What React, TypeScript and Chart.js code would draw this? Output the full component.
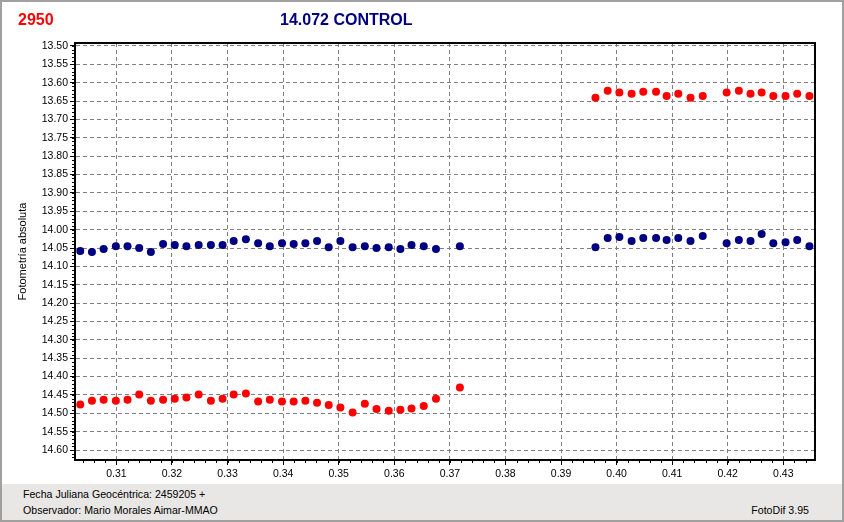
import React, { useEffect, useRef } from 'react';
import { Chart, registerables } from 'chart.js';

Chart.register(...registerables);

// Julian date fraction (2459205 + x)
const times = [
  0.3035, 0.3056, 0.3077, 0.3099, 0.3120, 0.3141, 0.3162, 0.3184, 0.3205, 0.3226,
  0.3248, 0.3270, 0.3291, 0.3311, 0.3333, 0.3355, 0.3376, 0.3398, 0.3419, 0.3440,
  0.3461, 0.3482, 0.3503, 0.3525, 0.3547, 0.3568, 0.3590, 0.3611, 0.3631, 0.3653,
  0.3675, 0.3718,
  0.3962, 0.3984, 0.4005, 0.4027, 0.4048, 0.4071, 0.4090, 0.4111, 0.4133, 0.4155,
  0.4198, 0.4220, 0.4241, 0.4261, 0.4282, 0.4304, 0.4325, 0.4347,
];

// Star 2950 (red)
const star2950 = [
  14.476, 14.466, 14.463, 14.466, 14.463, 14.449, 14.466, 14.463, 14.460, 14.457,
  14.449, 14.466, 14.460, 14.449, 14.446, 14.468, 14.463, 14.468, 14.468, 14.466,
  14.471, 14.477, 14.484, 14.498, 14.474, 14.488, 14.493, 14.490, 14.487, 14.480,
  14.460, 14.430,
  13.641, 13.622, 13.627, 13.630, 13.625, 13.625, 13.636, 13.630, 13.641, 13.636,
  13.627, 13.622, 13.630, 13.627, 13.636, 13.636, 13.630, 13.636,
];

// Control star 14.072 (navy)
const control = [
  14.058, 14.061, 14.053, 14.045, 14.045, 14.050, 14.061, 14.039, 14.042, 14.045,
  14.042, 14.042, 14.042, 14.031, 14.026, 14.037, 14.045, 14.037, 14.039, 14.037,
  14.031, 14.048, 14.031, 14.048, 14.045, 14.050, 14.048, 14.053, 14.042, 14.045,
  14.053, 14.045,
  14.048, 14.023, 14.020, 14.031, 14.023, 14.023, 14.028, 14.023, 14.031, 14.017,
  14.037, 14.028, 14.031, 14.012, 14.037, 14.034, 14.028, 14.045,
];

const xTickValues = [0.31, 0.32, 0.33, 0.34, 0.35, 0.36, 0.37, 0.38, 0.39, 0.40, 0.41, 0.42, 0.43];
const yTickValues = [
  13.50, 13.55, 13.60, 13.65, 13.70, 13.75, 13.80, 13.85, 13.90, 13.95, 14.00, 14.05,
  14.10, 14.15, 14.20, 14.25, 14.30, 14.35, 14.40, 14.45, 14.50, 14.55, 14.60,
];

const X_MIN = 0.30255;
const X_MAX = 0.4357;
const Y_MIN = 13.492;
const Y_MAX = 14.627;

const frame = {
  id: 'frame',
  afterDraw(chart: any) {
    const { ctx, chartArea, scales } = chart;
    const { left, right, top, bottom } = chartArea;
    ctx.save();
    ctx.strokeStyle = '#000';
    ctx.lineWidth = 1;
    ctx.beginPath();
    // minor x ticks every 0.002
    for (let i = 150; i <= 220; i++) {
      const px = Math.round(scales.x.getPixelForValue(i * 0.002)) + 0.5;
      if (px < left || px > right) continue;
      ctx.moveTo(px, bottom);
      ctx.lineTo(px, bottom + 3);
    }
    // minor y ticks every 0.01
    for (let i = 1349; i <= 1463; i++) {
      const py = Math.round(scales.y.getPixelForValue(i * 0.01)) + 0.5;
      if (py < top || py > bottom) continue;
      ctx.moveTo(left, py);
      ctx.lineTo(left - 3, py);
    }
    ctx.stroke();
    ctx.lineWidth = 2;
    ctx.beginPath();
    ctx.moveTo(left, top);
    ctx.lineTo(right, top);
    ctx.lineTo(right, bottom);
    ctx.stroke();
    ctx.restore();
  },
};

export default function App() {
  const ref = useRef<HTMLCanvasElement | null>(null);

  useEffect(() => {
    if (!ref.current) return;
    const tickFont = { family: 'Liberation Sans, Arial, sans-serif', size: 10.5 };
    const chart = new Chart(ref.current, {
      type: 'scatter',
      data: {
        datasets: [
          {
            label: '14.072 CONTROL',
            data: times.map((t, i) => ({ x: t, y: control[i] })),
            backgroundColor: '#000080',
            borderColor: '#000080',
            borderWidth: 0,
            pointRadius: 4,
            pointHoverRadius: 4,
          },
          {
            label: '2950',
            data: times.map((t, i) => ({ x: t, y: star2950[i] })),
            backgroundColor: '#ff0000',
            borderColor: '#ff0000',
            borderWidth: 0,
            pointRadius: 4,
            pointHoverRadius: 4,
          },
        ],
      },
      options: {
        animation: false,
        responsive: false,
        devicePixelRatio: 1,
        events: [],
        layout: { padding: { left: 0, top: 43, right: 29, bottom: 0 } },
        plugins: { legend: { display: false }, tooltip: { enabled: false } },
        scales: {
          x: {
            type: 'linear',
            min: X_MIN,
            max: X_MAX,
            afterBuildTicks: (scale: any) => {
              scale.ticks = xTickValues.map((v) => ({ value: v }));
            },
            afterFit: (scale: any) => {
              scale.height = 24;
            },
            ticks: {
              autoSkip: false,
              maxRotation: 0,
              color: '#000',
              font: tickFont,
              padding: 3,
              callback: (v: any) => Number(v).toFixed(2),
            },
            grid: {
              color: '#808080',
              lineWidth: 1,
              tickLength: 5,
              tickColor: '#000',
            },
            border: { display: true, color: '#000', width: 2, dash: [4, 3] },
          },
          y: {
            type: 'linear',
            reverse: true,
            min: Y_MIN,
            max: Y_MAX,
            afterBuildTicks: (scale: any) => {
              scale.ticks = yTickValues.map((v) => ({ value: v }));
            },
            afterFit: (scale: any) => {
              scale.width = 75;
            },
            title: {
              display: true,
              text: 'Fotometría absoluta',
              color: '#000',
              font: { family: 'Liberation Sans, Arial, sans-serif', size: 11 },
              padding: { top: 16, bottom: 0 },
            },
            ticks: {
              autoSkip: false,
              color: '#000',
              font: tickFont,
              padding: 2,
              callback: (v: any) => Number(v).toFixed(2),
            },
            grid: {
              color: '#808080',
              lineWidth: 1,
              tickLength: 5,
              tickColor: '#000',
            },
            border: { display: true, color: '#000', width: 2, dash: [4, 3] },
          },
        },
      },
      plugins: [frame],
    });
    return () => chart.destroy();
  }, []);

  const font = 'Liberation Sans, Arial, sans-serif';
  return (
    <div
      style={{
        position: 'absolute',
        left: 0,
        top: 0,
        width: 844,
        height: 522,
        background: '#fff',
        overflow: 'hidden',
        fontFamily: font,
      }}
    >
      <canvas ref={ref} width={844} height={484} style={{ position: 'absolute', left: 0, top: 0, width: 844, height: 484 }} />
      <div style={{ position: 'absolute', left: 18, top: 11, fontSize: 16, lineHeight: '18px', fontWeight: 'bold', color: '#ff0000' }}>2950</div>
      <div style={{ position: 'absolute', left: 280, top: 11, fontSize: 16, lineHeight: '18px', fontWeight: 'bold', color: '#000080' }}>14.072 CONTROL</div>
      <div style={{ position: 'absolute', left: 0, top: 484, width: 844, height: 38, background: '#e8e7e5' }} />
      <div style={{ position: 'absolute', left: 23, top: 488, fontSize: 10.6, lineHeight: '13px', color: '#000', whiteSpace: 'nowrap' }}>Fecha Juliana Geocéntrica: 2459205 +</div>
      <div style={{ position: 'absolute', left: 23, top: 504, fontSize: 10.6, lineHeight: '13px', color: '#000', whiteSpace: 'nowrap' }}>Observador: Mario Morales Aimar-MMAO</div>
      <div style={{ position: 'absolute', right: 35, top: 504, fontSize: 10.6, lineHeight: '13px', color: '#000', whiteSpace: 'nowrap' }}>FotoDif 3.95</div>
      <div style={{ position: 'absolute', left: 0, top: 0, width: 844, height: 522, boxSizing: 'border-box', border: '2px solid #a0a0a0', pointerEvents: 'none' }} />
    </div>
  );
}
